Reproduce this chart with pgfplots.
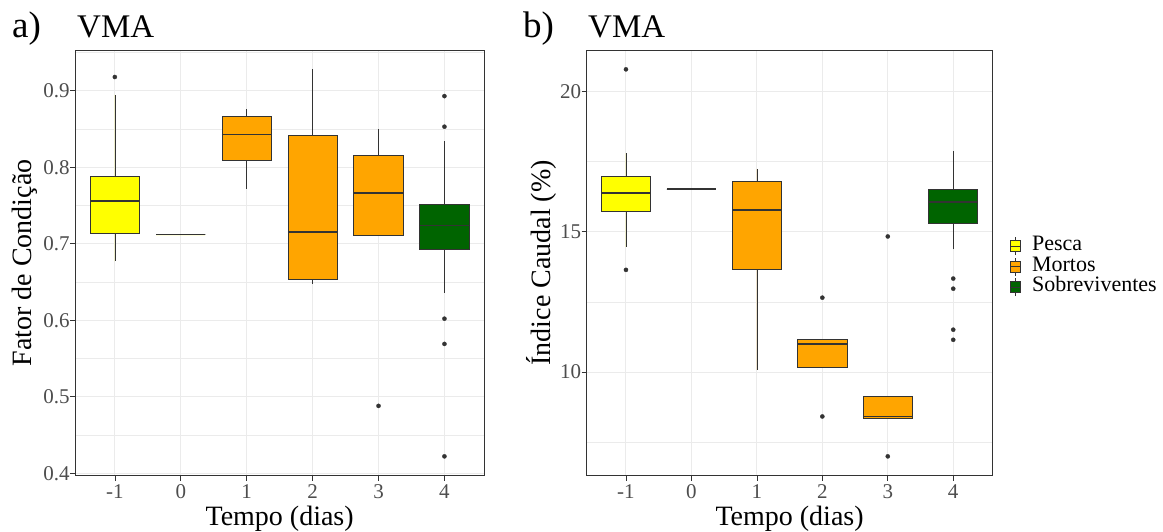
\documentclass[border=0pt]{standalone}
\usepackage{fontspec}
\setmainfont{Liberation Serif}
\usepackage{pgfplots}
\pgfplotsset{compat=1.18}
\usepgfplotslibrary{statistics}
\definecolor{pesca}{HTML}{FFFF00}
\definecolor{mortos}{HTML}{FFA500}
\definecolor{sobre}{HTML}{006400}
\definecolor{grey20}{HTML}{333333}
\definecolor{grey30}{HTML}{4D4D4D}
\definecolor{grey92}{HTML}{EBEBEB}
\pgfplotsset{
  ggbox/.style={
    scale only axis, height=425.7pt,
    xmin=-0.6, xmax=5.6, xtick={0,1,2,3,4,5}, xticklabels={-1,0,1,2,3,4},
    tick pos=left,
    tick align=outside, major tick length=5pt, minor tick length=0pt,
    tick style={grey20, line width=0.7pt},
    axis line style={grey20, line width=0.7pt},
    xmajorgrids, ymajorgrids, yminorgrids,
    major grid style={grey92, line width=1pt},
    minor grid style={grey92, line width=0.5pt},
    ticklabel style={font=\fontsize{21}{21}\selectfont, text=grey30},
    xticklabel style={anchor=base, yshift=-17.3pt},
    yticklabel style={anchor=east, inner sep=0pt, xshift=-0.5pt},
    every axis x label/.style={at={(axis description cs:0.5,-0.116)}, anchor=base, font=\fontsize{28}{28}\selectfont},
    boxplot/draw direction=y,
    boxplot/box extend=0.75,
    boxplot/whisker extend=0,
    boxplot/every median/.style={line width=1.6pt},
  },
  bx/.style={draw=grey20, line width=0.7pt, fill=#1, mark=*, mark size=2.1pt,
    mark options={solid, fill=grey20, draw=grey20, line width=0.3pt}, forget plot},
}
\begin{document}
\begin{tikzpicture}
\useasboundingbox (0,0) rectangle (1163pt,531pt);
% ---------------- panel a
\begin{axis}[ggbox, width=408.7pt, at={(75.3pt,55.3pt)}, anchor=south west,
  ymin=0.3967, ymax=0.9533,
  ytick={0.4,0.5,0.6,0.7,0.8,0.9}, yticklabels={0.4,0.5,0.6,0.7,0.8,0.9},
  minor ytick={0.45,0.55,0.65,0.75,0.85,0.95},
  xlabel={Tempo (dias)}, ylabel={Fator de Condição},
  every axis y label/.style={at={(axis description cs:-0.106,0.5)}, rotate=90, anchor=base, font=\fontsize{28}{28}\selectfont},
]
\addplot[bx=pesca, boxplot prepared={draw position=0, lower whisker=0.677, lower quartile=0.714, median=0.756, upper quartile=0.788, upper whisker=0.895}] coordinates {(0,0.918)};
\addplot[bx=pesca, boxplot prepared={draw position=1, lower whisker=0.712, lower quartile=0.712, median=0.712, upper quartile=0.712, upper whisker=0.712}] coordinates {};
\addplot[bx=mortos, boxplot prepared={draw position=2, lower whisker=0.772, lower quartile=0.809, median=0.843, upper quartile=0.867, upper whisker=0.876}] coordinates {};
\addplot[bx=mortos, boxplot prepared={draw position=3, lower whisker=0.648, lower quartile=0.654, median=0.715, upper quartile=0.842, upper whisker=0.928}] coordinates {};
\addplot[bx=mortos, boxplot prepared={draw position=4, lower whisker=0.711, lower quartile=0.711, median=0.766, upper quartile=0.815, upper whisker=0.850}] coordinates {(4,0.488)};
\addplot[bx=sobre, boxplot prepared={draw position=5, lower whisker=0.636, lower quartile=0.693, median=0.724, upper quartile=0.751, upper whisker=0.834}] coordinates {(5,0.893) (5,0.853) (5,0.602) (5,0.569) (5,0.422)};
\end{axis}
% ---------------- panel b
\begin{axis}[ggbox, width=405.8pt, at={(586.7pt,55.3pt)}, anchor=south west,
  ymin=6.311, ymax=21.469,
  ytick={10,15,20}, yticklabels={10,15,20},
  minor ytick={7.5,12.5,17.5},
  xlabel={Tempo (dias)}, ylabel={Índice Caudal (\%)},
  every axis y label/.style={at={(axis description cs:-0.088,0.5)}, rotate=90, anchor=base, font=\fontsize{28}{28}\selectfont},
  legend style={at={(1,0.491)}, anchor=west, xshift=17.5pt, draw=none, fill=none,
    inner sep=0pt, row sep=0pt, column sep=11pt,
    font=\fontsize{22}{22}\selectfont,
    nodes={inner sep=0pt, text height=15pt, text depth=5.5pt}},
  legend cell align=left,
]
\addlegendimage{legend image code/.code={
  \draw[grey20, line width=0.6pt] (5pt,-9pt) -- (5pt,9pt);
  \filldraw[fill=pesca, draw=grey20, line width=0.6pt] (0pt,-5.5pt) rectangle (10pt,5.5pt);
  \draw[grey20, line width=0.9pt] (0pt,0pt) -- (10pt,0pt);}}
\addlegendentry{Pesca}
\addlegendimage{legend image code/.code={
  \draw[grey20, line width=0.6pt] (5pt,-9pt) -- (5pt,9pt);
  \filldraw[fill=mortos, draw=grey20, line width=0.6pt] (0pt,-5.5pt) rectangle (10pt,5.5pt);
  \draw[grey20, line width=0.9pt] (0pt,0pt) -- (10pt,0pt);}}
\addlegendentry{Mortos}
\addlegendimage{legend image code/.code={
  \draw[grey20, line width=0.6pt] (5pt,-9pt) -- (5pt,9pt);
  \filldraw[fill=sobre, draw=grey20, line width=0.6pt] (0pt,-5.5pt) rectangle (10pt,5.5pt);
  \draw[grey20, line width=0.9pt] (0pt,0pt) -- (10pt,0pt);}}
\addlegendentry{Sobreviventes}
\addplot[bx=pesca, boxplot prepared={draw position=0, lower whisker=14.45, lower quartile=15.74, median=16.37, upper quartile=16.98, upper whisker=17.79}] coordinates {(0,20.78) (0,13.64)};
\addplot[bx=pesca, boxplot prepared={draw position=1, lower whisker=16.52, lower quartile=16.52, median=16.52, upper quartile=16.52, upper whisker=16.52}] coordinates {};
\addplot[bx=mortos, boxplot prepared={draw position=2, lower whisker=10.08, lower quartile=13.67, median=15.77, upper quartile=16.80, upper whisker=17.24}] coordinates {};
\addplot[bx=mortos, boxplot prepared={draw position=3, lower whisker=10.18, lower quartile=10.18, median=11.00, upper quartile=11.15, upper whisker=11.15}] coordinates {(3,12.65) (3,8.42)};
\addplot[bx=mortos, boxplot prepared={draw position=4, lower whisker=8.34, lower quartile=8.34, median=8.42, upper quartile=9.13, upper whisker=9.13}] coordinates {(4,14.83) (4,7.0)};
\addplot[bx=sobre, boxplot prepared={draw position=5, lower whisker=14.37, lower quartile=15.29, median=16.05, upper quartile=16.51, upper whisker=17.88}] coordinates {(5,13.33) (5,12.97) (5,11.51) (5,11.15)};
\end{axis}
% ---------------- titles
\node[anchor=base west, inner sep=0pt, font=\fontsize{37}{37}\selectfont] at (12pt,493pt) {a)};
\node[anchor=base west, inner sep=0pt, font=\fontsize{33}{33}\selectfont] at (77pt,493pt) {VMA};
\node[anchor=base west, inner sep=0pt, font=\fontsize{37}{37}\selectfont] at (523pt,493pt) {b)};
\node[anchor=base west, inner sep=0pt, font=\fontsize{33}{33}\selectfont] at (588pt,493pt) {VMA};
\end{tikzpicture}
\end{document}
